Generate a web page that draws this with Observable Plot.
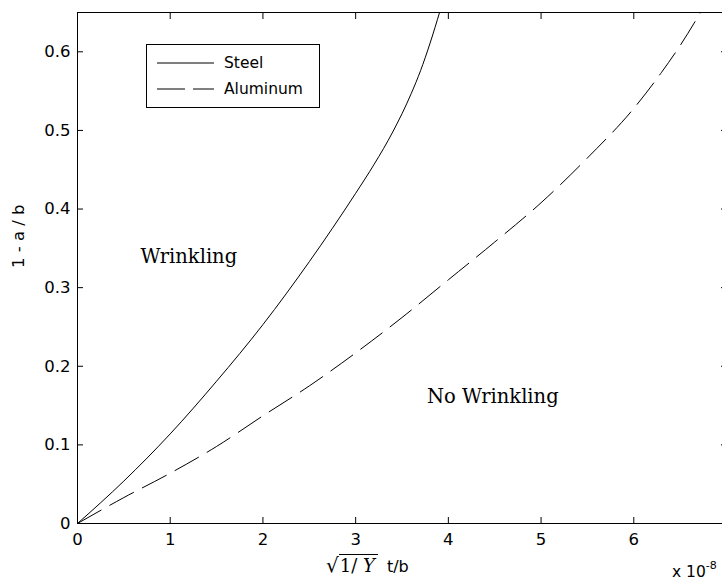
<!DOCTYPE html>
<html>
<head>
<meta charset="utf-8">
<script src="https://cdn.jsdelivr.net/npm/d3@7"></script>
<script src="https://cdn.jsdelivr.net/npm/@observablehq/plot@0.6"></script>
<style>
  html, body { margin: 0; padding: 0; background: #fff; overflow: hidden; }
  #wrap { position: relative; width: 722px; height: 581px; overflow: hidden; background: #fff; }
  #wrap > svg { position: absolute; left: 0; top: 0; max-width: none !important; width: 760px !important; height: 581px !important; }
  .legend { position: absolute; left: 146px; top: 44px; width: 172px; height: 62px; border: 1px solid #000; background: #fff;
            font-family: "DejaVu Sans", sans-serif; font-size: 15.5px; color: #000; }
  .legend .row { position: absolute; left: 0; height: 20px; display: flex; align-items: center; }
  .legend .row svg { margin-left: 10px; margin-right: 10px; }
  .xlabel { position: absolute; left: 326px; top: 553px; font-family: "DejaVu Serif", serif; font-size: 18px; color: #000; white-space: nowrap; }
  .xlabel .rad { font-size: 20px; }
  .xlabel .over { border-top: 1px solid #000; padding: 0 3px 0 1px; }
  .xlabel .tb { font-family: "DejaVu Sans", sans-serif; font-size: 16px; margin-left: 9px; }
  .expo { position: absolute; left: 672px; top: 561px; font-family: "DejaVu Sans", sans-serif; font-size: 15.5px; color: #000; white-space: nowrap; }
  .expo sup { font-size: 11px; position: relative; top: -2px; }
</style>
</head>
<body>
<div id="wrap"></div>
<script>
// ---- data (x in units of 1e-8) ----
const xTicks = [0, 1, 2, 3, 4, 5, 6, 7];
const yTicks = [0, 0.1, 0.2, 0.3, 0.4, 0.5, 0.6];
const yTickLabels = ["0", "0.1", "0.2", "0.3", "0.4", "0.5", "0.6"];
const xTickLabels = ["0", "1", "2", "3", "4", "5", "6", "7"];

const steelX = [0, 0.5, 1, 1.5, 2, 2.5, 3, 3.2, 3.4, 3.6, 3.7, 3.8, 3.91];
const steelY = [0, 0.054, 0.114, 0.181, 0.253, 0.333, 0.42, 0.457, 0.498, 0.547, 0.576, 0.61, 0.652];

const aluminumX = [0, 0.5, 1, 1.5, 2, 2.5, 3, 3.5, 4, 4.5, 5, 5.5, 6, 6.3, 6.5, 6.72];
const aluminumY = [0, 0.033, 0.064, 0.098, 0.137, 0.175, 0.217, 0.262, 0.31, 0.358, 0.408, 0.465, 0.528, 0.574, 0.608, 0.65];

const seriesNames = ["Steel", "Aluminum"];
const regionLabels = ["Wrinkling", "No Wrinkling"];
const regionX = [0.68, 3.77];
const regionY = [0.339, 0.161];
const yLabel = "1 - a / b";
const xExponent = "-8";

// ---- build tables ----
const steel = steelX.map((x, i) => ({x, y: steelY[i]}));
const aluminum = aluminumX.map((x, i) => ({x, y: aluminumY[i]}));
const regions = regionLabels.map((t, i) => ({t, x: regionX[i], y: regionY[i]}));

const W = 760, H = 581;
const dash = "27,10";

const chart = Plot.plot({
  width: W,
  height: H,
  marginLeft: 77,
  marginRight: W - 726,
  marginTop: 12,
  marginBottom: H - 523,
  style: { fontFamily: "DejaVu Sans, sans-serif", fontSize: "16.5px", color: "#000", background: "#fff", maxWidth: "none", overflow: "hidden" },
  x: { domain: [0, 7] },
  y: { domain: [0, 0.65] },
  marks: [
    Plot.line(steel, { x: "x", y: "y", stroke: "#000", strokeWidth: 1, curve: "monotone-x", clip: true }),
    Plot.line(aluminum, { x: "x", y: "y", stroke: "#000", strokeWidth: 1, strokeDasharray: dash, curve: "monotone-x", clip: true }),
    Plot.text(regions, { x: "x", y: "y", text: "t", textAnchor: "start", fontFamily: "DejaVu Serif, serif", fontSize: 19.5, fill: "#000" }),
    // inward ticks on all four sides
    Plot.axisX({ anchor: "bottom", ticks: xTicks, tickSize: 6, dy: -6, text: null, label: null }),
    Plot.axisX({ anchor: "top", ticks: xTicks, tickSize: 6, dy: 6, text: null, label: null }),
    Plot.axisY({ anchor: "left", ticks: yTicks, tickSize: 6, dx: 6, text: null, label: null }),
    Plot.axisY({ anchor: "right", ticks: yTicks, tickSize: 6, dx: -6, text: null, label: null }),
    // tick labels
    Plot.axisX({ anchor: "bottom", ticks: xTicks, tickSize: 0, tickPadding: 10, label: null, tickFormat: (d, i) => xTickLabels[i] }),
    Plot.axisY({ anchor: "left", ticks: yTicks, tickSize: 0, tickPadding: 7, label: null, tickFormat: (d, i) => yTickLabels[i] }),
    Plot.text([yLabel], { frameAnchor: "left", rotate: -90, dx: -59, fill: "#000" }),
    Plot.frame({ stroke: "#000", strokeWidth: 1 })
  ]
});
const wrap = document.getElementById("wrap");
wrap.appendChild(chart);

// legend
const legend = document.createElement("div");
legend.className = "legend";
const rows = [
  { name: seriesNames[0], dash: null, top: 8 },
  { name: seriesNames[1], dash: "28,8", top: 34 }
];
for (const r of rows) {
  const row = document.createElement("div");
  row.className = "row";
  row.style.top = r.top + "px";
  row.innerHTML = `<svg width="57" height="4"><line x1="0" y1="2" x2="57" y2="2" stroke="#000" stroke-width="1" ${r.dash ? `stroke-dasharray="${r.dash}"` : ""}/></svg><span>${r.name}</span>`;
  legend.appendChild(row);
}
wrap.appendChild(legend);

// x label
const xl = document.createElement("div");
xl.className = "xlabel";
xl.innerHTML = `<span class="rad">√</span><span class="over">1/ <i>Y</i></span><span class="tb">t/b</span>`;
wrap.appendChild(xl);

// exponent
const ex = document.createElement("div");
ex.className = "expo";
ex.innerHTML = `x 10<sup>${xExponent}</sup>`;
wrap.appendChild(ex);
</script>
</body>
</html>
